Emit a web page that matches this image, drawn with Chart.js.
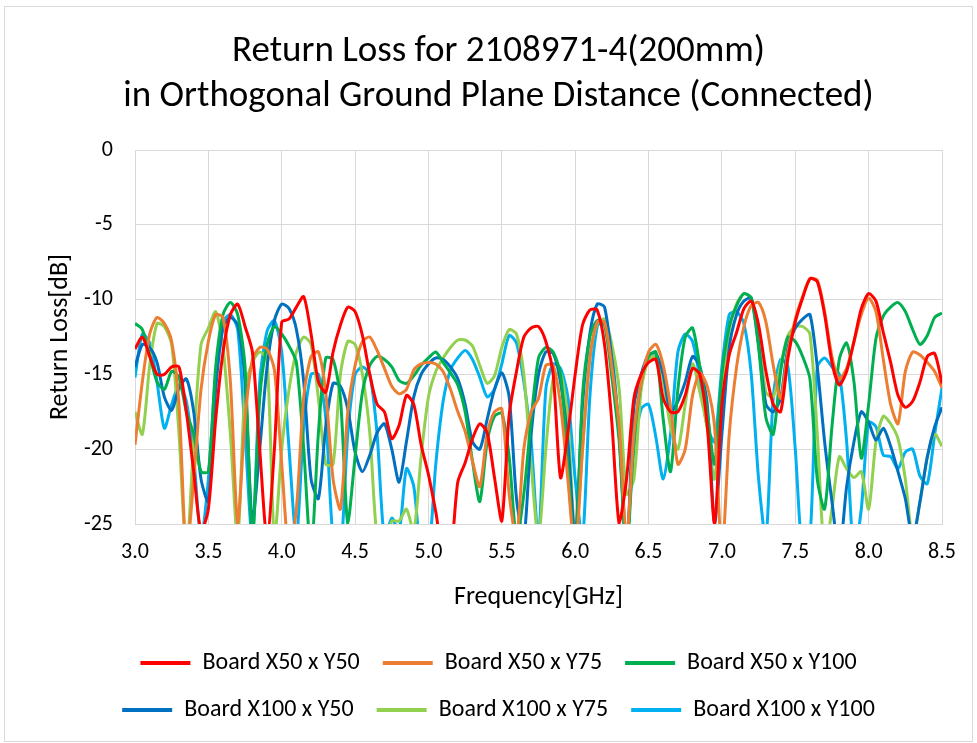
<!DOCTYPE html>
<html lang="en">
<head>
  <meta charset="UTF-8">
  <title>Return Loss for 2108971-4(200mm)</title>
  <script src="https://cdn.jsdelivr.net/npm/chart.js"></script>
  <style>
    body { margin: 0; background: #fff; }
    canvas { display: block; }
  </style>
</head>
<body>
  <canvas id="rlChart" width="977" height="743"></canvas>

  <script>
    // frequency points [GHz]
    const freq = [
      3.00, 3.05, 3.10, 3.15, 3.20, 3.25, 3.30, 3.35, 3.40, 3.45,
      3.50, 3.55, 3.60, 3.65, 3.70, 3.75, 3.80, 3.85, 3.90, 3.95,
      4.00, 4.05, 4.10, 4.15, 4.20, 4.25, 4.30, 4.35, 4.40, 4.45,
      4.50, 4.55, 4.60, 4.65, 4.70, 4.75, 4.80, 4.85, 4.90, 4.95,
      5.00, 5.05, 5.10, 5.15, 5.20, 5.25, 5.30, 5.35, 5.40, 5.45,
      5.50, 5.55, 5.60, 5.65, 5.70, 5.75, 5.80, 5.85, 5.90, 5.95,
      6.00, 6.05, 6.10, 6.15, 6.20, 6.25, 6.30, 6.35, 6.40, 6.45,
      6.50, 6.55, 6.60, 6.65, 6.70, 6.75, 6.80, 6.85, 6.90, 6.95,
      7.00, 7.05, 7.10, 7.15, 7.20, 7.25, 7.30, 7.35, 7.40, 7.45,
      7.50, 7.55, 7.60, 7.65, 7.70, 7.75, 7.80, 7.85, 7.90, 7.95,
      8.00, 8.05, 8.10, 8.15, 8.20, 8.25, 8.30, 8.35, 8.40, 8.45,
      8.50
    ];

    // return loss [dB] per board
    const x50y50 = [
      -13.3, -12.5, -13.8, -15.0, -15.0, -14.5, -14.5, -17.5, -21.5, -25.5,
      -24.0, -18.0, -13.5, -11.0, -10.3, -11.8, -13.5, -20.0, -26.0, -20.0,
      -11.5, -11.3, -10.5, -9.8, -12.3, -15.5, -16.2, -13.5, -11.7, -10.5,
      -10.8, -12.4, -15.0, -17.0, -17.5, -19.3, -18.4, -16.4, -17.0, -19.7,
      -21.7, -24.2, -27.0, -27.0, -22.2, -20.9, -19.3, -18.3, -18.9, -21.9,
      -24.8, -17.7, -14.8, -12.5, -11.9, -11.8, -12.8, -15.0, -21.9, -18.9,
      -15.0, -11.7, -10.7, -10.7, -13.0, -18.2, -25.0, -22.0, -16.6, -15.0,
      -14.2, -14.0, -16.6, -17.5, -17.5, -16.4, -14.6, -15.0, -18.4, -25.0,
      -17.0, -13.7, -12.2, -10.6, -10.1, -11.7, -14.8, -17.0, -17.5, -13.9,
      -11.5, -9.9, -8.6, -8.8, -11.0, -14.2, -15.7, -14.8, -12.8, -10.6,
      -9.6, -10.1, -12.2, -14.2, -16.4, -17.2, -16.8, -15.5, -13.8, -13.6,
      -15.6
    ];
    const x50y75 = [
      -19.7, -15.5, -12.3, -11.2, -11.6, -12.8, -17.0, -27.0, -22.0, -16.0,
      -12.8, -11.0, -11.2, -15.5, -25.0, -18.0, -14.0, -13.2, -13.3, -14.7,
      -21.0, -27.0, -24.0, -16.5, -13.8, -13.5, -16.2, -22.0, -24.0, -17.5,
      -14.4, -12.8, -12.5, -13.4, -14.6, -15.8, -16.3, -16.0, -14.7, -14.3,
      -14.2, -14.3, -14.8, -16.0, -17.5, -18.8, -20.8, -22.5, -19.0, -17.5,
      -17.3, -23.0, -26.0, -20.0, -17.5, -16.6, -14.4, -14.4, -17.0, -22.0,
      -27.0, -20.0, -14.0, -11.5, -11.5, -14.5, -18.5, -26.0, -19.0, -15.5,
      -13.5, -13.0, -14.4, -17.2, -21.0, -20.0, -16.4, -14.9, -15.8, -18.5,
      -27.0, -19.0, -14.5, -11.8, -10.4, -10.2, -11.5, -14.4, -16.6, -13.5,
      -11.3, -9.8, -8.6, -8.7, -10.8, -13.8, -15.3, -14.6, -12.8, -11.0,
      -9.9, -10.8, -14.0, -17.0, -18.3, -14.8, -13.5, -13.7, -14.2, -14.8,
      -15.9
    ];
    const x50y100 = [
      -11.6, -12.0, -13.7, -15.5, -16.0, -14.8, -15.2, -17.5, -19.0, -21.5,
      -21.5, -14.5, -11.0, -10.2, -11.0, -14.5, -26.0, -16.6, -13.0, -11.8,
      -12.3, -13.1, -14.2, -20.0, -27.0, -18.9, -13.9, -14.0, -16.6, -25.0,
      -20.5, -16.2, -14.4, -13.8, -14.0, -14.5, -15.4, -15.6, -15.1, -14.4,
      -13.9, -13.5, -14.2, -14.9, -15.7, -17.5, -20.8, -23.5, -19.5, -17.8,
      -17.6, -20.5, -26.0, -23.0, -18.0, -13.9, -13.2, -13.5, -15.0, -21.0,
      -27.0, -16.4, -12.5, -11.4, -11.7, -15.2, -19.5, -27.0, -19.5, -15.5,
      -13.8, -13.5, -18.0, -21.5, -16.0, -12.5, -11.9, -14.5, -17.5, -21.0,
      -15.0, -11.8, -10.4, -9.6, -9.9, -13.2, -17.9, -19.0, -14.8, -12.5,
      -12.8, -13.8, -15.3, -22.0, -24.0, -18.5, -14.0, -12.9, -15.5, -20.6,
      -17.0, -12.6, -11.1, -10.5, -10.2, -10.8, -12.0, -13.0, -12.4, -11.2,
      -10.9
    ];
    const x100y50 = [
      -14.5, -13.0, -13.2, -14.2, -16.5, -17.4, -15.9, -15.3, -17.5, -22.0,
      -23.5, -16.0, -11.9, -11.2, -11.7, -15.5, -25.0, -20.0, -14.5, -11.4,
      -10.3, -10.6, -12.0, -15.5, -22.0, -23.3, -18.5, -15.6, -15.8, -17.3,
      -20.2, -21.5, -20.4, -18.9, -18.3, -20.0, -22.2, -19.5, -16.5, -15.0,
      -14.3, -13.9, -14.0, -14.5, -15.3, -17.0, -19.5, -20.0, -18.0, -16.0,
      -14.9, -16.5, -23.3, -26.0, -19.0, -15.0, -13.5, -13.6, -15.5, -19.5,
      -26.0, -17.0, -12.3, -10.3, -10.5, -14.0, -19.0, -27.0, -17.2, -15.0,
      -13.7, -13.6, -15.0, -17.5, -16.8, -15.5, -13.8, -14.5, -17.0, -25.0,
      -19.0, -13.2, -11.0, -10.1, -9.9, -13.0, -17.0, -17.5, -16.6, -13.2,
      -11.9, -11.3, -11.0, -14.5, -19.5, -23.5, -27.0, -22.5, -19.5, -17.5,
      -18.2, -19.4, -18.6, -19.8, -21.5, -23.3, -26.0, -23.5, -20.5, -18.5,
      -17.2
    ];
    const x100y75 = [
      -17.5, -19.0, -14.4, -11.6, -11.8, -13.0, -19.0, -27.0, -19.5, -13.0,
      -11.9, -10.8, -13.2, -19.0, -26.0, -16.0, -14.2, -13.5, -14.0, -26.0,
      -20.0, -16.0, -13.5, -12.5, -13.0, -16.6, -21.0, -21.0, -15.0, -12.8,
      -13.0, -15.0, -18.9, -26.0, -27.0, -24.8, -24.8, -24.0, -25.5, -20.5,
      -16.5, -14.8, -13.9, -13.2, -12.7, -12.7, -13.1, -14.4, -15.6, -15.1,
      -13.2, -12.0, -12.3, -15.0, -21.0, -26.0, -20.0, -15.3, -14.9, -18.0,
      -26.0, -20.0, -13.8, -11.6, -11.3, -13.0, -16.0, -23.0, -22.0, -16.0,
      -14.0, -13.8, -15.5, -18.5, -20.0, -17.0, -14.3, -16.2, -18.6, -22.0,
      -16.0, -12.0, -10.3, -9.6, -9.9, -12.2, -16.2, -16.5, -14.4, -12.4,
      -11.8, -11.8, -12.3, -19.0, -27.0, -24.0, -20.5, -21.3, -21.9, -21.5,
      -24.0, -19.5, -17.8, -18.3, -19.3, -22.0, -26.0, -23.5, -20.5, -19.0,
      -19.8
    ];
    const x100y100 = [
      -15.2, -12.3, -12.9, -15.5, -18.6, -17.0, -15.7, -16.8, -20.5, -26.0,
      -22.0, -15.0, -11.5, -11.0, -12.0, -19.0, -26.0, -15.5, -12.1, -11.4,
      -13.5, -20.0, -26.0, -18.5, -15.0, -15.0, -17.9, -26.0, -27.0, -19.0,
      -15.0, -14.5, -15.0, -19.0, -26.0, -24.6, -25.5, -21.3, -22.5, -27.0,
      -27.0, -21.0, -16.8, -14.7, -13.9, -13.4, -14.0, -15.2, -16.5, -16.0,
      -14.3, -12.4, -12.9, -15.5, -19.5, -26.0, -16.0, -14.3, -14.6, -16.5,
      -22.0, -26.0, -16.5, -11.8, -11.4, -13.5, -19.0, -26.0, -20.0, -17.3,
      -17.0, -19.2, -22.0, -19.0, -13.5, -12.3, -12.8, -15.3, -18.5, -19.5,
      -14.5, -11.0, -10.8, -11.6, -15.0, -22.0, -26.0, -16.5, -14.0, -14.5,
      -20.0, -27.0, -26.0, -14.5, -13.9, -14.5, -15.0, -19.5, -27.0, -24.0,
      -18.2, -18.5, -20.4, -20.5, -21.3, -20.2, -20.0, -21.8, -22.3, -19.0,
      -15.9
    ];

    const seriesNames = ['Board X50 x Y50', 'Board X50 x Y75', 'Board X50 x Y100',
                         'Board X100 x Y50', 'Board X100 x Y75', 'Board X100 x Y100'];
    const seriesValues = [x50y50, x50y75, x50y100, x100y50, x100y75, x100y100];
    const seriesColors = ['#FF0000', '#ED7D31', '#00B050', '#0070C0', '#92D050', '#00B0F0'];

    const titleLines = ['Return Loss for 2108971-4(200mm)', 'in Orthogonal Ground Plane Distance (Connected)'];
    const xTitle = 'Frequency[GHz]';
    const yTitle = 'Return Loss[dB]';

    const FONT = 'Carlito, Lato, sans-serif';
    const GRID = '#d9d9d9';

    // white background + light frame like the office chart area
    const frame = {
      id: 'frame',
      beforeDraw(chart) {
        const c = chart.ctx;
        c.save();
        c.fillStyle = '#fff';
        c.fillRect(0, 0, chart.width, chart.height);
        c.strokeStyle = GRID;
        c.lineWidth = 1;
        c.strokeRect(4.5, 6.5, chart.width - 9, chart.height - 8);
        c.restore();
      }
    };

    const datasets = seriesNames.map((name, i) => ({
      label: name,
      data: freq.map((f, k) => ({ x: f, y: seriesValues[i][k] })),
      borderColor: seriesColors[i],
      backgroundColor: seriesColors[i],
      borderWidth: 3,
      pointRadius: 0,
      tension: 0.25,
      fill: false
    }));

    const ctx = document.getElementById('rlChart').getContext('2d');
    const rlChart = new Chart(ctx, {
      type: 'line',
      data: { datasets: datasets },
      options: {
        responsive: false,
        animation: false,
        devicePixelRatio: 1,
        layout: { padding: { left: 20, right: 0, top: 0, bottom: 11 } },
        plugins: {
          title: {
            display: true,
            text: titleLines,
            color: '#000',
            font: { family: FONT, size: 37, weight: 'normal', lineHeight: 45 / 37 },
            padding: { top: 29.5, bottom: 30.5 }
          },
          legend: {
            position: 'bottom',
            labels: {
              color: '#000',
              font: { family: FONT, size: 24 },
              boxWidth: 50,
              boxHeight: 4,
              padding: 23,
              generateLabels: (chart) =>
                Chart.defaults.plugins.legend.labels.generateLabels(chart).map(l => ({
                  ...l, fillStyle: l.strokeStyle, lineWidth: 0
                }))
            }
          },
          tooltip: { enabled: false }
        },
        scales: {
          x: {
            type: 'linear',
            min: 3,
            max: 8.5,
            ticks: {
              stepSize: 0.5,
              padding: 15,
              color: '#000',
              font: { family: FONT, size: 22 },
              callback: v => v.toFixed(1)
            },
            grid: { color: GRID, drawTicks: false },
            border: { color: GRID },
            title: {
              display: true,
              text: xTitle,
              color: '#000',
              font: { family: FONT, size: 26 },
              padding: { top: 0, bottom: 15.4 }
            },
            afterFit: s => { s.height = 104; }
          },
          y: {
            min: -25,
            max: 0,
            ticks: {
              stepSize: 5,
              padding: 22,
              color: '#000',
              font: { family: FONT, size: 22 }
            },
            grid: { color: GRID, drawTicks: false },
            border: { display: false },
            title: {
              display: true,
              text: yTitle,
              color: '#000',
              font: { family: FONT, size: 26 },
              padding: { top: 24.4, bottom: 0 }
            },
            afterFit: s => { s.width = 115; }
          },
          // empty right-hand spacer so the plot ends where the original does
          y2: {
            position: 'right',
            grid: { display: false },
            ticks: { display: false },
            border: { display: false },
            afterFit: s => { s.width = 35; }
          }
        }
      },
      plugins: [frame]
    });
  </script>
</body>
</html>
